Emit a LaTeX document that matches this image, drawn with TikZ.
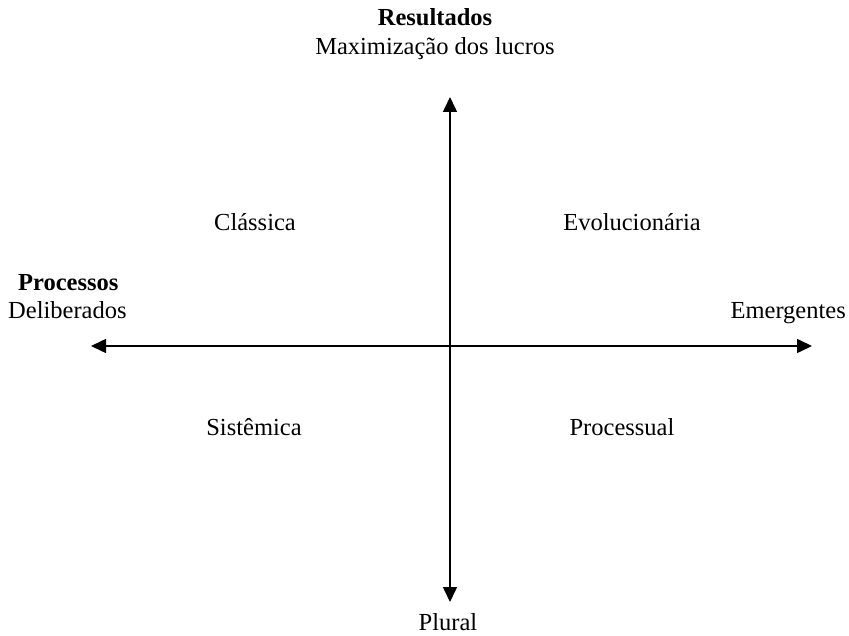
\documentclass[tikz,border=0pt]{standalone}
\usepackage{fontspec}
\setmainfont{Liberation Serif}
\usetikzlibrary{arrows.meta}
\begin{document}
\begin{tikzpicture}[x=1pt,y=-1pt,
  lbl/.style={anchor=base,inner sep=0pt,font=\fontsize{24.5}{28}\selectfont},
  hd/.style={lbl,font=\fontsize{24.5}{28}\selectfont\bfseries},
  axis/.style={line width=1.5pt,{Triangle[length=15pt,width=14pt]}-{Triangle[length=15pt,width=14pt]}}]
  \useasboundingbox (0,0) rectangle (849,636);
  % axis end points
  \coordinate (top) at (450,97);
  \coordinate (bottom) at (450,602);
  \coordinate (left) at (91,346);
  \coordinate (right) at (812,346);
  \draw[axis] (bottom) -- (top);
  \draw[axis] (left) -- (right);
  % axis labels
  \node[hd] (res) at (435,26) {Resultados};
  \node[lbl] (max) at (435,55) {Maximização dos lucros};
  \node[hd,anchor=base west] (proc) at (18,291) {Processos};
  \node[lbl,anchor=base west] (delib) at (8,319) {Deliberados};
  \node[lbl,anchor=base east] (emer) at (846,319) {Emergentes};
  \node[lbl] (plural) at (448,630) {Plural};
  % quadrant labels
  \node[lbl] (classica) at (255,231) {Clássica};
  \node[lbl] (evol) at (632,231) {Evolucionária};
  \node[lbl] (sist) at (254,435) {Sistêmica};
  \node[lbl] (procs) at (622,435) {Processual};
\end{tikzpicture}
\end{document}
